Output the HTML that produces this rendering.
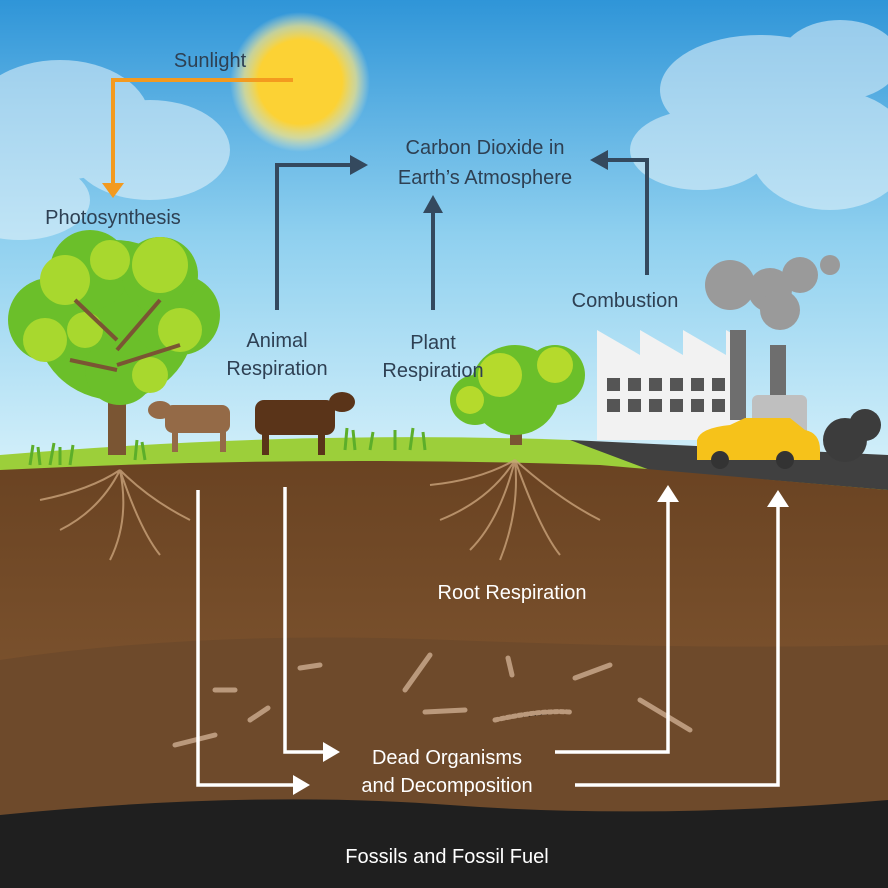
<!DOCTYPE html>
<html><head><meta charset="utf-8"><style>
html,body{margin:0;padding:0;width:888px;height:888px;overflow:hidden}
svg text{font-family:"Liberation Sans",sans-serif}
</style></head><body>
<svg width="888" height="888" viewBox="0 0 888 888" xmlns="http://www.w3.org/2000/svg">
<defs>
<linearGradient id="sky" x1="0" y1="0" x2="0" y2="1">
<stop offset="0" stop-color="#2f95d8"/><stop offset="0.5" stop-color="#8fd0ef"/><stop offset="1" stop-color="#d4f0fa"/>
</linearGradient>
<radialGradient id="sun" cx="0.5" cy="0.5" r="0.5">
<stop offset="0.6" stop-color="#fcd234"/><stop offset="0.8" stop-color="#fde680" stop-opacity="0.7"/><stop offset="1" stop-color="#fff6c8" stop-opacity="0"/>
</radialGradient>
<linearGradient id="soil" x1="0" y1="0" x2="0" y2="1">
<stop offset="0" stop-color="#6a4322"/><stop offset="1" stop-color="#8a5f38"/>
</linearGradient>
</defs>
<rect width="888" height="470" fill="url(#sky)"/>
<g fill="#e8f5fb" opacity="0.55">
<ellipse cx="60" cy="120" rx="90" ry="60"/><ellipse cx="150" cy="150" rx="80" ry="50"/><ellipse cx="20" cy="200" rx="70" ry="40"/>
<ellipse cx="760" cy="90" rx="100" ry="55"/><ellipse cx="830" cy="150" rx="80" ry="60"/><ellipse cx="700" cy="150" rx="70" ry="40"/><ellipse cx="840" cy="60" rx="60" ry="40"/>
</g>
<circle cx="300" cy="82" r="70" fill="url(#sun)"/>
<path d="M0,455 Q300,430 570,440 L888,470 L888,888 L0,888 z" fill="#9ccf3a"/>
<path d="M570,440 L888,455 L888,490 L650,470 z" fill="#404040"/>
<path d="M0,470 Q300,455 600,465 L888,490 L888,888 L0,888 z" fill="url(#soil)"/>
<path d="M0,660 Q200,630 450,640 Q700,650 888,645 L888,888 L0,888z" fill="#6e4a2b"/>
<path d="M0,815 Q250,790 450,805 Q650,820 888,800 L888,888 L0,888z" fill="#1f1f1f"/>
<g stroke="#c9a37a" stroke-width="2" fill="none" opacity="0.8">
<path d="M120,470 Q100,510 60,530 M120,470 Q130,520 110,560 M120,470 Q150,500 190,520 M120,470 Q90,490 40,500 M120,470 Q140,530 160,555"/>
<path d="M515,460 Q490,500 440,520 M515,460 Q520,510 500,560 M515,460 Q560,500 600,520 M515,460 Q480,480 430,485 M515,460 Q540,530 560,555 M515,460 Q500,520 470,550"/>
</g>
<g stroke="#c3a285" stroke-width="5" stroke-linecap="round" opacity="0.9">
<path d="M405,690 L430,655"/><path d="M425,712 L465,710"/><path d="M575,678 L610,665"/><path d="M640,700 L690,730"/><path d="M175,745 L215,735"/><path d="M250,720 L268,708"/><path d="M300,668 L320,665"/><path d="M508,658 L512,675"/><path d="M215,690 L235,690"/>
<path d="M495,720 Q540,710 570,712" stroke-dasharray="3 3"/>
</g>
<g stroke="#34495e" stroke-width="4" fill="none">
<path d="M277,310 L277,165 L352,165"/>
<path d="M433,310 L433,210"/>
<path d="M647,275 L647,160 L605,160"/>
</g>
<g fill="#34495e">
<path d="M350,155 L368,165 L350,175z"/><path d="M423,213 L433,195 L443,213z"/><path d="M608,150 L590,160 L608,170z"/>
</g>
<path d="M293,80 L113,80 L113,185" stroke="#f39a1f" stroke-width="4" fill="none"/>
<path d="M102,183 L124,183 L113,198z" fill="#f39a1f"/>
<g stroke="#fff" stroke-width="3.5" fill="none">
<path d="M198,490 L198,785 L295,785"/><path d="M285,487 L285,752 L325,752"/>
<path d="M555,752 L668,752 L668,500"/><path d="M575,785 L778,785 L778,505"/>
</g>
<g fill="#fff">
<path d="M293,775 L310,785 L293,795z"/><path d="M323,742 L340,752 L323,762z"/>
<path d="M657,502 L668,485 L679,502z"/><path d="M767,507 L778,490 L789,507z"/>
</g>
<rect x="108" y="330" width="18" height="125" fill="#7a5533"/>
<g fill="#6bbf2a"><circle cx="115" cy="320" r="80"/><circle cx="50" cy="320" r="42"/><circle cx="180" cy="315" r="40"/><circle cx="90" cy="270" r="40"/><circle cx="160" cy="275" r="38"/><circle cx="120" cy="370" r="35"/></g>
<g fill="#a8d82e"><circle cx="65" cy="280" r="25"/><circle cx="160" cy="265" r="28"/><circle cx="110" cy="260" r="20"/><circle cx="45" cy="340" r="22"/><circle cx="180" cy="330" r="22"/><circle cx="85" cy="330" r="18"/><circle cx="150" cy="375" r="18"/></g>
<g stroke="#7a5533" stroke-width="4"><path d="M117,340 L75,300 M117,350 L160,300 M117,370 L70,360 M117,365 L180,345"/></g>
<rect x="510" y="400" width="12" height="45" fill="#7a5533"/>
<circle cx="515" cy="390" r="45" fill="#6bbf2a"/><circle cx="555" cy="375" r="30" fill="#6bbf2a"/><circle cx="475" cy="400" r="25" fill="#6bbf2a"/>
<circle cx="500" cy="375" r="22" fill="#b5da2c"/><circle cx="555" cy="365" r="18" fill="#b5da2c"/><circle cx="470" cy="400" r="14" fill="#b5da2c"/>
<g fill="#946a47"><rect x="165" y="405" width="65" height="28" rx="8"/><rect x="172" y="430" width="6" height="22"/><rect x="220" y="430" width="6" height="22"/><ellipse cx="160" cy="410" rx="12" ry="9"/></g>
<g fill="#5a3419"><rect x="255" y="400" width="80" height="35" rx="9"/><rect x="262" y="430" width="7" height="25"/><rect x="318" y="430" width="7" height="25"/><ellipse cx="342" cy="402" rx="13" ry="10"/></g>
<g stroke="#5cae2a" stroke-width="3"><path d="M30,465 l3,-20 M40,465 l-2,-18 M50,465 l4,-22 M60,465 l0,-18 M70,465 l3,-20 M135,460 l2,-20 M145,460 l-3,-18 M345,450 l2,-22 M355,450 l-2,-20 M370,450 l3,-18 M395,450 l0,-20 M410,450 l3,-22 M425,450 l-2,-18"/></g>
<path d="M597,440 L597,330 L640,355 L640,330 L683,355 L683,330 L726,355 L726,330 L740,338 L740,440z" fill="#f2f2f2"/>
<rect x="730" y="330" width="16" height="90" fill="#6e6e6e"/><rect x="770" y="345" width="16" height="80" fill="#6e6e6e"/>
<rect x="752" y="395" width="55" height="45" rx="6" fill="#bfbfbf"/>
<g fill="#555"><rect x="607" y="378" width="13" height="13"/><rect x="628" y="378" width="13" height="13"/><rect x="649" y="378" width="13" height="13"/><rect x="670" y="378" width="13" height="13"/><rect x="691" y="378" width="13" height="13"/><rect x="712" y="378" width="13" height="13"/>
<rect x="607" y="399" width="13" height="13"/><rect x="628" y="399" width="13" height="13"/><rect x="649" y="399" width="13" height="13"/><rect x="670" y="399" width="13" height="13"/><rect x="691" y="399" width="13" height="13"/><rect x="712" y="399" width="13" height="13"/></g>
<g fill="#9a9a9a"><circle cx="730" cy="285" r="25"/><circle cx="770" cy="290" r="22"/><circle cx="800" cy="275" r="18"/><circle cx="780" cy="310" r="20"/><circle cx="830" cy="265" r="10"/></g>
<g fill="#3c3c3c"><circle cx="845" cy="440" r="22"/><circle cx="865" cy="425" r="16"/></g>
<path d="M697,440 Q700,428 730,425 L745,418 L790,418 L805,430 Q820,433 820,450 L820,460 L697,460z" fill="#f6c21a"/>
<circle cx="720" cy="460" r="9" fill="#333"/><circle cx="785" cy="460" r="9" fill="#333"/>
<g fill="#2e4053" font-size="20" text-anchor="middle">
<text x="210" y="67">Sunlight</text>
<text x="113" y="224">Photosynthesis</text>
<text x="485" y="154">Carbon Dioxide in</text>
<text x="485" y="184">Earth’s Atmosphere</text>
<text x="625" y="307">Combustion</text>
<text x="277" y="347">Animal</text><text x="277" y="375">Respiration</text>
<text x="433" y="349">Plant</text><text x="433" y="377">Respiration</text>
</g>
<g fill="#fff" font-size="20" text-anchor="middle">
<text x="512" y="599">Root Respiration</text>
<text x="447" y="764">Dead Organisms</text><text x="447" y="792">and Decomposition</text>
<text x="447" y="863">Fossils and Fossil Fuel</text>
</g>
</svg>
</body></html>
